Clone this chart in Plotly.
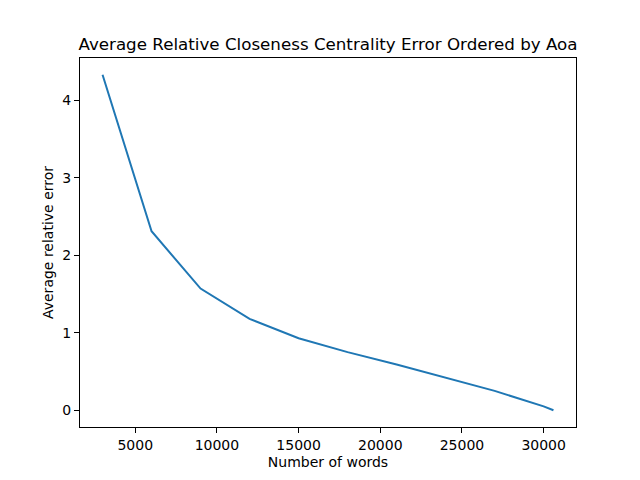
import plotly.graph_objects as go

# number of words vs average relative error
num_words = [3000, 6000, 9000, 12000, 15000, 18000, 21000, 24000, 27000, 30000, 30600]
avg_rel_error = [4.33, 2.31, 1.57, 1.18, 0.93, 0.75, 0.59, 0.42, 0.25, 0.05, 0.0]

x_ticks = [5000, 10000, 15000, 20000, 25000, 30000]
y_ticks = [0, 1, 2, 3, 4]

fig = go.Figure()
fig.add_trace(go.Scatter(x=num_words, y=avg_rel_error, mode='lines',
                         line=dict(color='#1f77b4', width=2)))

# matplotlib-ish 5% margins
x_pad = (max(num_words) - min(num_words)) * 0.05
y_pad = (max(avg_rel_error) - min(avg_rel_error)) * 0.05

axis_style = dict(showline=True, linecolor='black', linewidth=1, mirror=True,
                  ticks='outside', ticklen=5, tickwidth=1, tickcolor='black',
                  showgrid=False, zeroline=False,
                  tickfont=dict(family='DejaVu Sans', size=14, color='black'))

fig.update_xaxes(range=[min(num_words) - x_pad, max(num_words) + x_pad],
                 tickvals=x_ticks, ticktext=[str(t) for t in x_ticks],
                 title=dict(text='Number of words', standoff=5,
                            font=dict(family='DejaVu Sans', size=14, color='black')),
                 **axis_style)
fig.update_yaxes(range=[min(avg_rel_error) - y_pad, max(avg_rel_error) + y_pad],
                 tickvals=y_ticks, ticktext=[str(t) for t in y_ticks],
                 title=dict(text='Average relative error', standoff=5,
                            font=dict(family='DejaVu Sans', size=14, color='black')),
                 **axis_style)

# page has an 8px body margin, so shift everything up/left by 8
fig.update_layout(
    width=640, height=480,
    margin=dict(l=72, r=72, t=50, b=61),
    plot_bgcolor='white', paper_bgcolor='white',
    showlegend=False,
    title=dict(text='Average Relative Closeness Centrality Error Ordered by Aoa',
               x=(72 + 568) / 2 / 640, xanchor='center', y=1 - 36 / 480, yanchor='middle',
               font=dict(family='DejaVu Sans', size=16.7, color='black')),
)

fig.write_html("out.html")
